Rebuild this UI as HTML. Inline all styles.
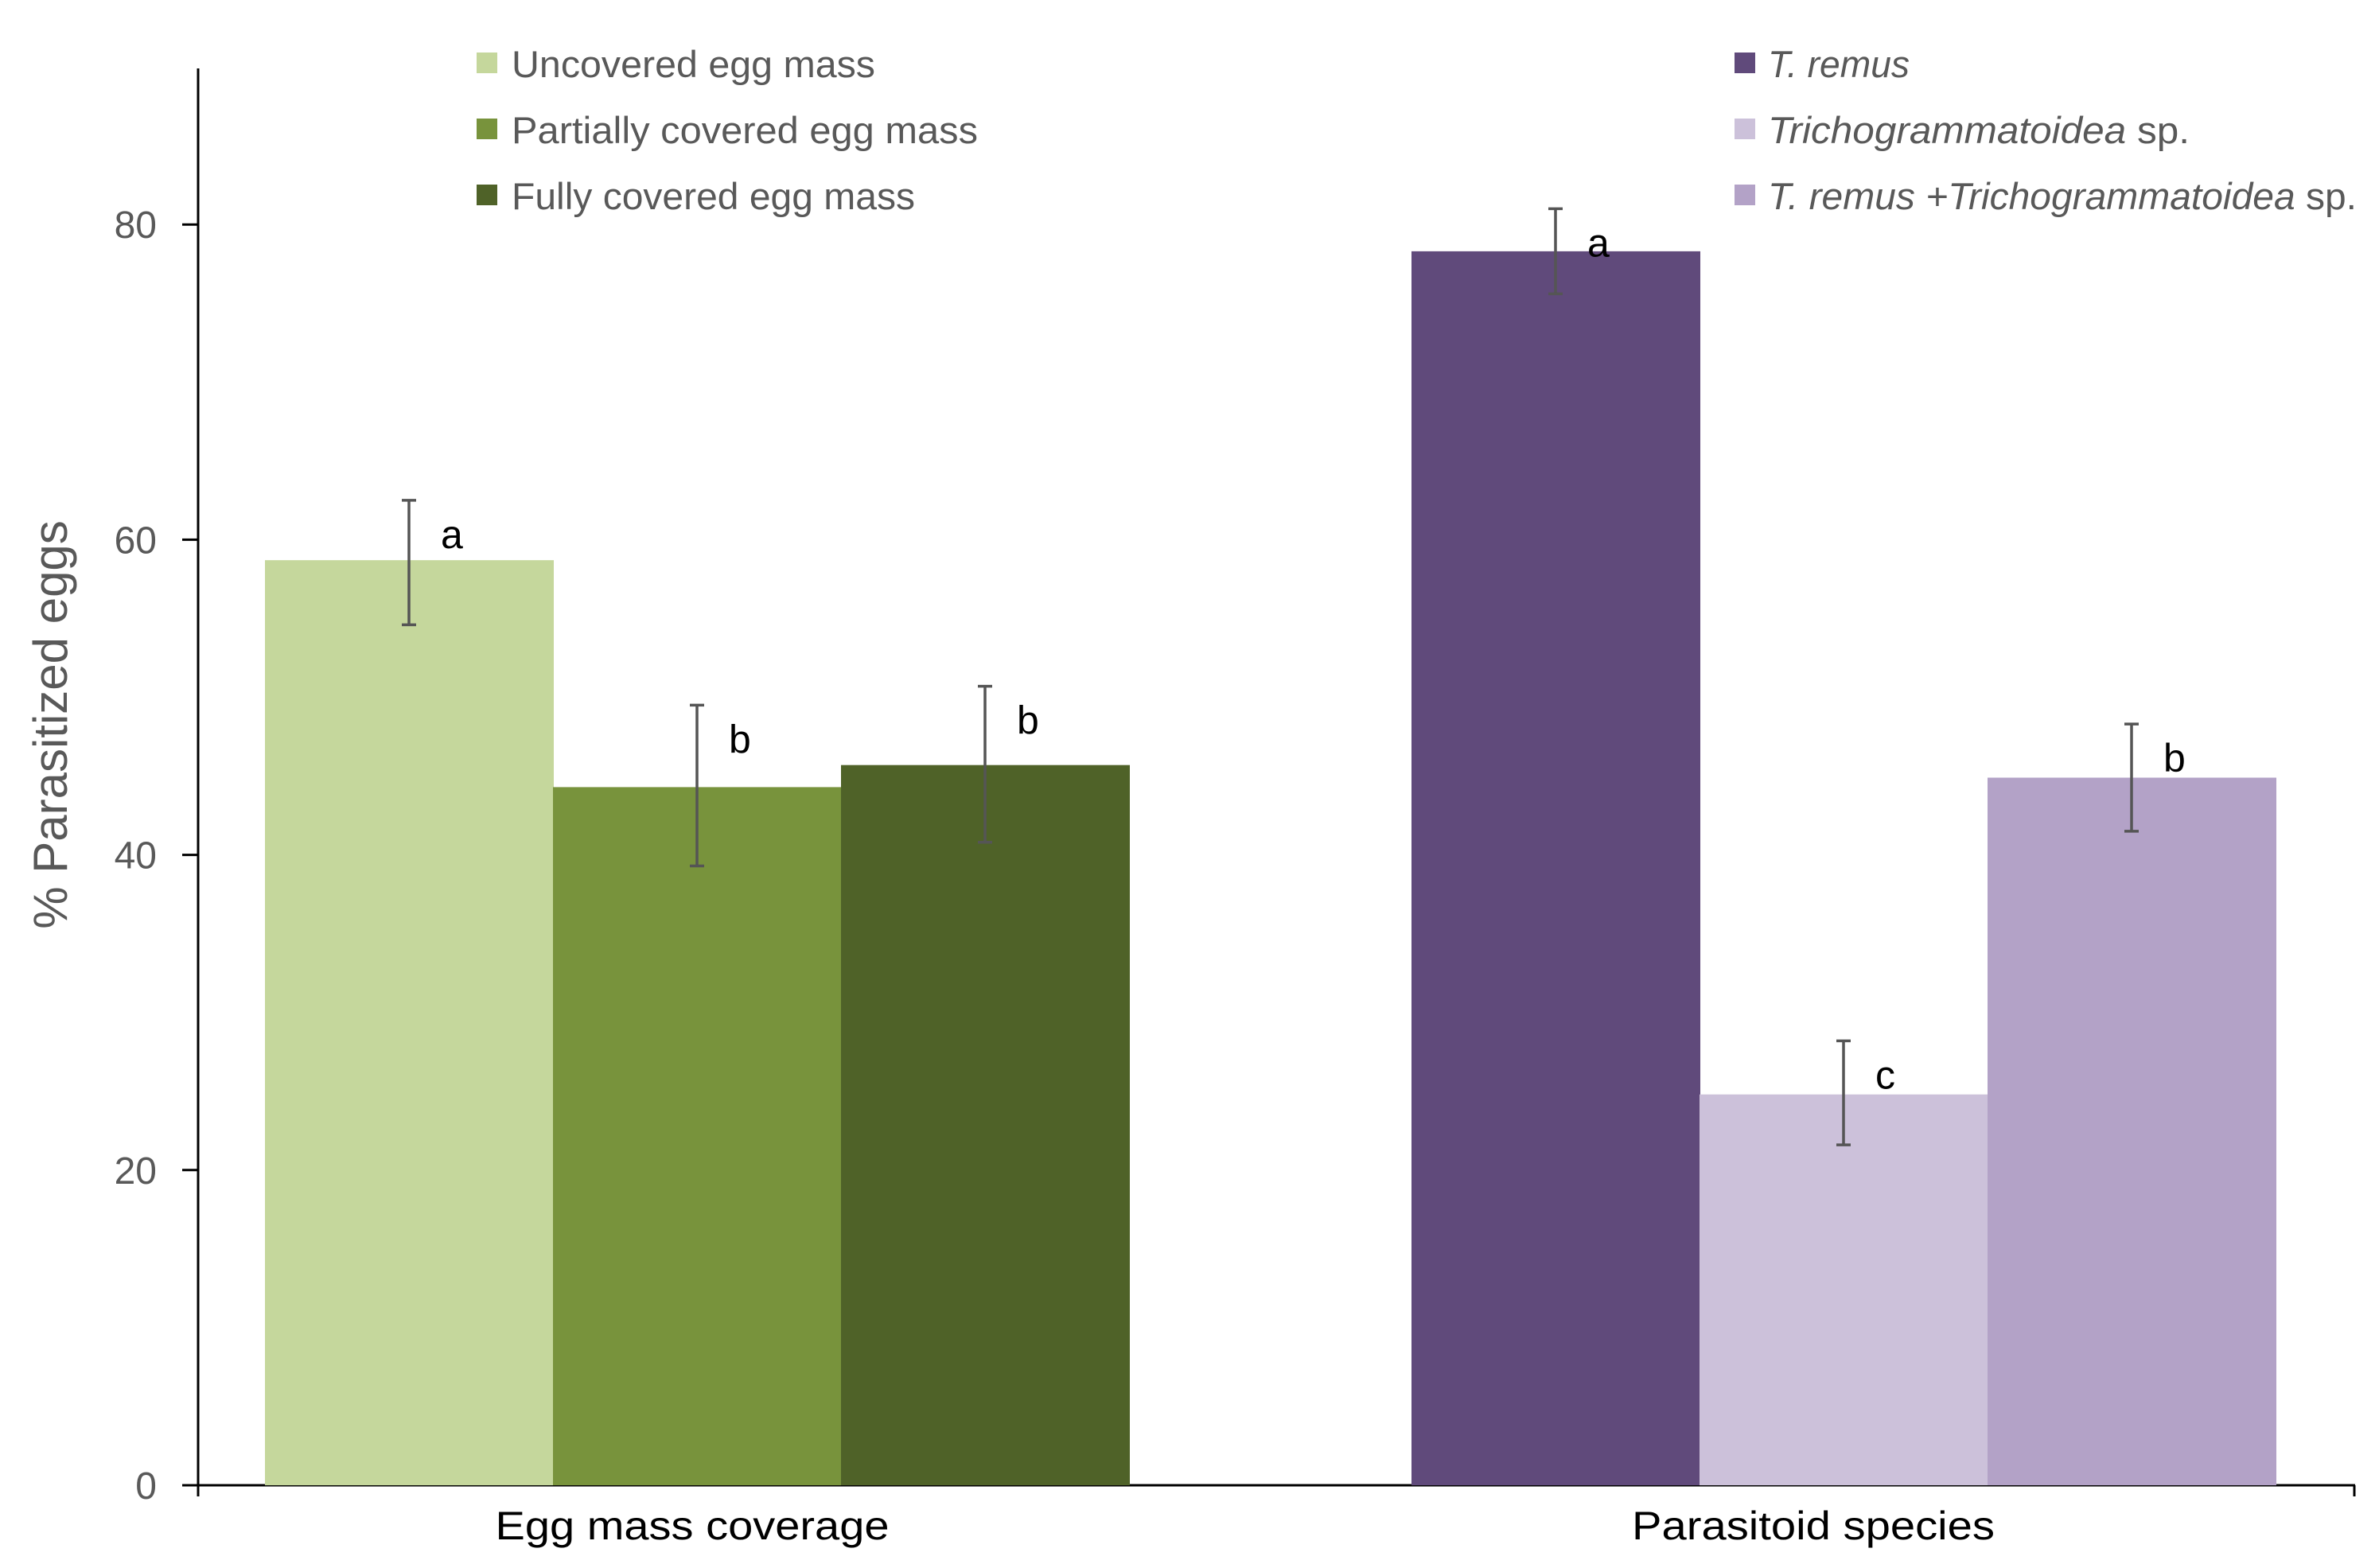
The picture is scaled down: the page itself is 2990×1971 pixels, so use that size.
<!DOCTYPE html>
<html><head><meta charset="utf-8"><style>
html,body{margin:0;padding:0;background:#fff;}
svg{display:block;}
</style></head><body>
<svg id="chart" width="2990" height="1971" viewBox="0 0 2990 1971" xmlns="http://www.w3.org/2000/svg" font-family="Liberation Sans, sans-serif">
<g id="axes"></g>
<g id="bars"></g>
<g id="legend"></g>
</svg>
<script>
const groups = ["Egg mass coverage", "Parasitoid species"];
const seriesNames = ["Uncovered egg mass", "Partially covered egg mass", "Fully covered egg mass", "T. remus", "Trichogrammatoidea sp.", "T. remus +Trichogrammatoidea sp."];
const values = [58.7, 44.3, 45.7, 78.3, 24.8, 44.9];
const errHigh = [62.5, 49.5, 50.7, 81.0, 28.2, 48.3];
const errLow = [54.6, 39.3, 40.8, 75.6, 21.6, 41.5];
const letters = ["a", "b", "b", "a", "c", "b"];
const yTicks = [0, 20, 40, 60, 80];

const NS = "http://www.w3.org/2000/svg";
const colors = ["#c5d79c", "#78933c", "#4f6228", "#604a7b", "#ccc1da", "#b3a2c7"];
const x0 = 249, xEnd = 2960, yBase = 1867, pxPerUnit = 19.81;
const yScale = v => yBase - v * pxPerUnit;
const barW = 362;
const groupStart = [333, 1774];
const barX = i => groupStart[Math.floor(i / 3)] + (i % 3) * barW;

function mk(tag, attrs, parent, text) {
  const e = document.createElementNS(NS, tag);
  for (const k in attrs) e.setAttribute(k, attrs[k]);
  if (text !== undefined) e.textContent = text;
  parent.appendChild(e);
  return e;
}
const axes = document.getElementById('axes');
const bars = document.getElementById('bars');
const legend = document.getElementById('legend');

values.forEach((v, i) => {
  const r = mk('rect', {x: barX(i), y: yScale(v), width: barW + 1, height: yBase - yScale(v), fill: colors[i]}, bars);
  
  
});
values.forEach((v, i) => {
  const cx = barX(i) + barW / 2;
  const g = mk('g', {stroke: '#555', 'stroke-width': 3.5}, bars);
  
  
  mk('line', {x1: cx, x2: cx, y1: yScale(errHigh[i]), y2: yScale(errLow[i])}, g);
  mk('line', {x1: cx - 9, x2: cx + 9, y1: yScale(errHigh[i]), y2: yScale(errHigh[i])}, g);
  mk('line', {x1: cx - 9, x2: cx + 9, y1: yScale(errLow[i]), y2: yScale(errLow[i])}, g);
  const t = mk('text', {x: cx + 40, y: yScale(errHigh[i]) + 60, 'font-size': 50, fill: '#000'}, bars, letters[i]);
  
  
});
const ya = mk('line', {x1: x0, x2: x0, y1: 86, y2: yBase + 14, stroke: '#000', 'stroke-width': 3}, axes);


const xa = mk('line', {x1: x0 - 20, x2: xEnd, y1: yBase, y2: yBase, stroke: '#000', 'stroke-width': 3}, axes);


mk('line', {x1: xEnd - 1, x2: xEnd - 1, y1: yBase, y2: yBase + 14, stroke: '#000', 'stroke-width': 3}, axes);
yTicks.forEach(v => {
  mk('line', {x1: x0 - 20, x2: x0, y1: yScale(v), y2: yScale(v), stroke: '#000', 'stroke-width': 3}, axes);
  const t = mk('text', {x: 197, y: yScale(v) + 17, 'font-size': 48, fill: '#595959', 'text-anchor': 'end'}, axes, String(v));
  
  
});
const yt = mk('text', {x: 0, y: 0, 'font-size': 60, fill: '#595959', 'text-anchor': 'middle', transform: 'translate(84,911) rotate(-90)'}, axes, '% Parasitized eggs');


const gCenters = [870, 2279];
const gLens = [495, 456];
groups.forEach((g, i) => {
  const t = mk('text', {x: gCenters[i], y: 1935, 'font-size': 50, fill: '#000', 'text-anchor': 'middle', textLength: gLens[i], lengthAdjust: 'spacingAndGlyphs'}, axes, g);
  
  
});
const legX = [599, 2180], legTextX = [643, 2222];
const legY = [80, 163, 246];
const legEnd = [1100, 1229, 1150, 2400, 2752, 2962];
seriesNames.forEach((n, i) => {
  const col = Math.floor(i / 3), row = i % 3;
  const g = mk('g', {}, legend);
  
  
  mk('rect', {x: legX[col], y: legY[row] - 14, width: 26, height: 26, fill: colors[i]}, g);
  const t = mk('text', {x: legTextX[col], y: legY[row] + 17, 'font-size': 47, fill: '#595959', textLength: legEnd[i] - legTextX[col], lengthAdjust: 'spacingAndGlyphs'}, g);
  if (i === 3) { mk('tspan', {'font-style': 'italic'}, t, 'T. remus'); }
  else if (i === 4) { mk('tspan', {'font-style': 'italic'}, t, 'Trichogrammatoidea'); mk('tspan', {}, t, ' sp.'); }
  else if (i === 5) { mk('tspan', {'font-style': 'italic'}, t, 'T. remus +Trichogrammatoidea'); mk('tspan', {}, t, ' sp.'); }
  else t.textContent = n;
});
</script>
</body></html>
